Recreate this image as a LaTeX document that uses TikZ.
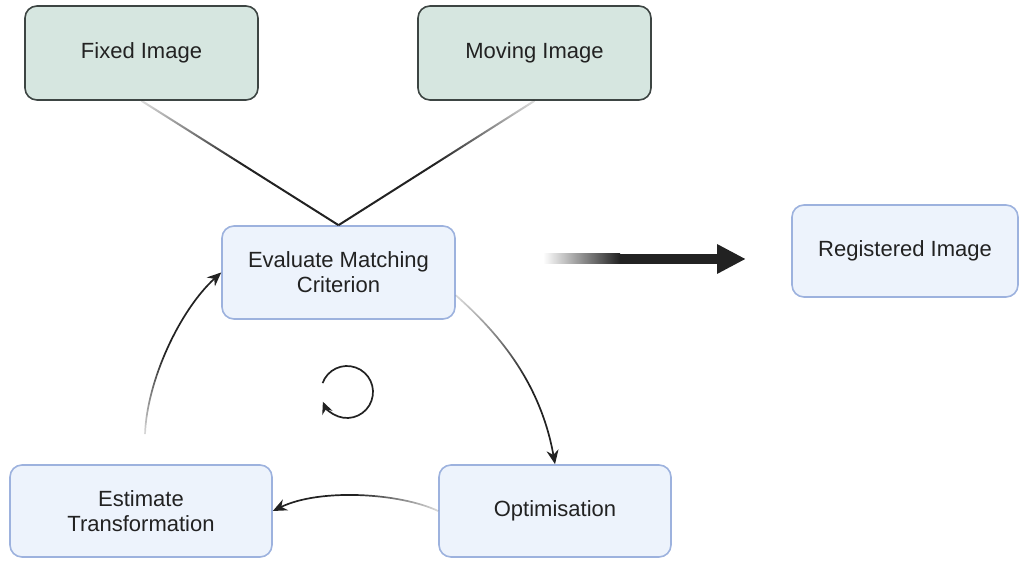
\documentclass[tikz,border=0pt]{standalone}
\usepackage{fontspec}
\setmainfont{Liberation Sans}
\usetikzlibrary{positioning,calc,fadings,arrows.meta}

\definecolor{boxgreen}{HTML}{D6E6E0}
\definecolor{edgegreen}{HTML}{3D4543}
\definecolor{boxblue}{HTML}{EDF3FC}
\definecolor{edgeblue}{HTML}{9DB2DE}
\definecolor{inkdark}{HTML}{222222}

% fadings: light only on the first part of a connector
\pgfdeclareverticalshading{fadetopshade}{100bp}{color(0bp)=(pgftransparent!0); color(50bp)=(pgftransparent!0); color(75bp)=(pgftransparent!85); color(100bp)=(pgftransparent!85)}
\pgfdeclarefading{fade top}{\pgfuseshading{fadetopshade}}
\pgfdeclarehorizontalshading{faderightshade}{100bp}{color(0bp)=(pgftransparent!0); color(50bp)=(pgftransparent!0); color(75bp)=(pgftransparent!85); color(100bp)=(pgftransparent!85)}
\pgfdeclarefading{fade right}{\pgfuseshading{faderightshade}}
\pgfdeclareverticalshading{fadebottomshade}{100bp}{color(0bp)=(pgftransparent!85); color(25bp)=(pgftransparent!85); color(50bp)=(pgftransparent!0); color(100bp)=(pgftransparent!0)}
\pgfdeclarefading{fade bottom}{\pgfuseshading{fadebottomshade}}

\begin{document}
\begin{tikzpicture}
    [
    x=1pt, y=1pt,
    every node/.style={font=\fontsize{22}{25}\selectfont, text=inkdark, align=center},
    inputbox/.style={rectangle, rounded corners=12pt, fill=boxgreen, draw=edgegreen, line width=1.6pt, minimum width=233pt, minimum height=94pt},
    stagebox/.style={rectangle, rounded corners=12pt, fill=boxblue, draw=edgeblue, line width=1.6pt, minimum width=233pt, minimum height=93pt},
    link/.style={draw=inkdark, line width=2pt},
    flow/.style={draw=inkdark, line width=1.7pt, -{Stealth[length=14pt, width=12pt]}},
    ]

    \useasboundingbox (0,0) rectangle (1019,561);

    % input images
    \node[inputbox] (box_fixed) at (141.5,508) {Fixed Image};
    \node[inputbox] (box_moving) at (534.5,508) {Moving Image};

    % loop stages
    \node[stagebox] (box_eval) at (338.5,288.5) {Evaluate Matching\\Criterion};
    \node[stagebox, minimum width=232pt, minimum height=92pt] (box_opt) at (555,50) {Optimisation};
    \node[stagebox, minimum width=262pt, minimum height=92pt] (box_est) at (141,50) {Estimate\\Transformation};

    % result
    \node[stagebox, minimum width=226pt, minimum height=92pt] (box_reg) at (905,310) {Registered Image};

    % inputs into the criterion
    \draw[link, path fading=fade top] (box_fixed.south) -- (box_eval.north);
    \draw[link, path fading=fade top] (box_moving.south) -- (box_eval.north);

    % the loop
    \draw[flow, path fading=fade top] (box_eval.-11) .. controls (495,231) and (540,181) .. (box_opt.north);
    \draw[flow, path fading=fade right] (box_opt.west) .. controls (400,68) and (320,73) .. (box_est.east);
    \coordinate[above right=30pt and 4pt of box_est.north] (est_up);
    \draw[flow, path fading=fade bottom] (est_up) .. controls (147,181) and (180,251) .. (box_eval.west);

    % loop symbol
    \coordinate (loop_mid) at (347,169);
    \draw[draw=inkdark, line width=1.7pt, -{Stealth[length=12pt, width=11pt]}]
        ($(loop_mid)+(160:26)$) arc[start angle=160, end angle=-158, radius=26];

    % thick arrow to the result
    \coordinate (arr_start) at (543,302);
    \coordinate (arr_mid) at (620,302);
    \coordinate (arr_neck) at (717,302);
    \coordinate[left=46pt of box_reg.west] (arr_tip);
    \shade[left color=white, right color=inkdark] ($(arr_start)+(0,-5)$) rectangle ($(arr_mid)+(0,5)$);
    \fill[inkdark] ($(arr_mid)+(-0.5,-5)$) rectangle ($(arr_neck)+(0,5)$);
    \fill[inkdark] ($(arr_neck)+(0,-15)$) -- (arr_tip |- arr_neck) -- ($(arr_neck)+(0,15)$) -- cycle;
\end{tikzpicture}
\end{document}
